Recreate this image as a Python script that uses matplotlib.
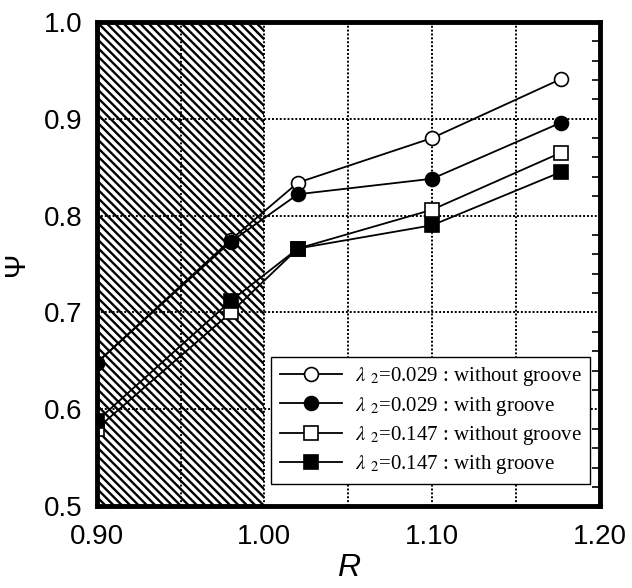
import numpy as np
import matplotlib.pyplot as plt
from matplotlib.patches import Rectangle
from matplotlib.ticker import MultipleLocator

# данні, зчитані з рисунку
R = [0.90, 0.98, 1.02, 1.10, 1.177]
psi_029_without = [0.648, 0.775, 0.834, 0.880, 0.941]
psi_029_with = [0.648, 0.773, 0.822, 0.838, 0.896]
psi_147_without = [0.580, 0.700, 0.766, 0.806, 0.865]
psi_147_with = [0.588, 0.712, 0.766, 0.790, 0.845]

labels = [
    r"$\lambda\ _2$=0.029 : without groove",
    r"$\lambda\ _2$=0.029 : with groove",
    r"$\lambda\ _2$=0.147 : without groove",
    r"$\lambda\ _2$=0.147 : with groove",
]

plt.rcParams["font.family"] = ["Liberation Sans", "DejaVu Sans"]
plt.rcParams["mathtext.fontset"] = "stix"
plt.rcParams["hatch.linewidth"] = 1.7

fig = plt.figure(figsize=(6.32, 5.88), dpi=100)
ax = fig.add_axes([0.153, 0.139, 0.796, 0.824])

# заштрихована область R < 1
ax.add_patch(Rectangle((0.90, 0.5), 0.10, 0.5, facecolor="white",
                       edgecolor="black", hatch="\\\\\\\\", linewidth=0, zorder=0))

grid_kw = dict(linestyle=(0, (1, 1)), color="black", linewidth=1.4, zorder=1)
ax.grid(True, which="major", **grid_kw)

style = dict(color="black", linewidth=1.3, markersize=10, markeredgewidth=1.2, zorder=3)
ax.plot(R, psi_029_without, marker="o", markerfacecolor="white", label=labels[0], **style)
ax.plot(R, psi_029_with, marker="o", markerfacecolor="black", label=labels[1], **style)
ax.plot(R, psi_147_without, marker="s", markerfacecolor="white", label=labels[2], **style)
ax.plot(R, psi_147_with, marker="s", markerfacecolor="black", label=labels[3], **style)

ax.set_xlim(0.90, 1.20)
ax.set_ylim(0.5, 1.0)
ax.set_xticks([0.90, 1.00, 1.10, 1.20])
ax.set_xticklabels(["0.90", "1.00", "1.10", "1.20"])
ax.xaxis.set_minor_locator(MultipleLocator(0.05))
ax.set_yticks([0.5, 0.6, 0.7, 0.8, 0.9, 1.0])
ax.set_yticklabels(["0.5", "0.6", "0.7", "0.8", "0.9", "1.0"])
ax.yaxis.set_minor_locator(MultipleLocator(0.02))
ax.grid(True, which="minor", axis="x", **grid_kw)

ax.tick_params(axis="both", which="both", labelsize=20, direction="in")
ax.tick_params(axis="x", which="both", length=0, pad=13)
ax.tick_params(axis="y", which="major", length=0, pad=10)
ax.tick_params(axis="y", which="minor", length=6, width=1.2, left=False, right=True)

for s in ax.spines.values():
    s.set_linewidth(3.5)
    s.set_zorder(5)

ax.set_xlabel("R", fontsize=23, fontstyle="italic", labelpad=2)
ax.set_ylabel("Ψ", fontsize=21, labelpad=10)

leg = ax.legend(loc="lower right", bbox_to_anchor=(0.98, 0.045), fancybox=False,
                framealpha=1, edgecolor="black", handlelength=3.0,
                prop={"family": "Liberation Serif", "size": 15},
                borderpad=0.4, labelspacing=0.3, handletextpad=0.6,
                borderaxespad=0)
leg.get_frame().set_linewidth(1.0)
leg.set_zorder(6)

fig.savefig("out.png", dpi=100)
